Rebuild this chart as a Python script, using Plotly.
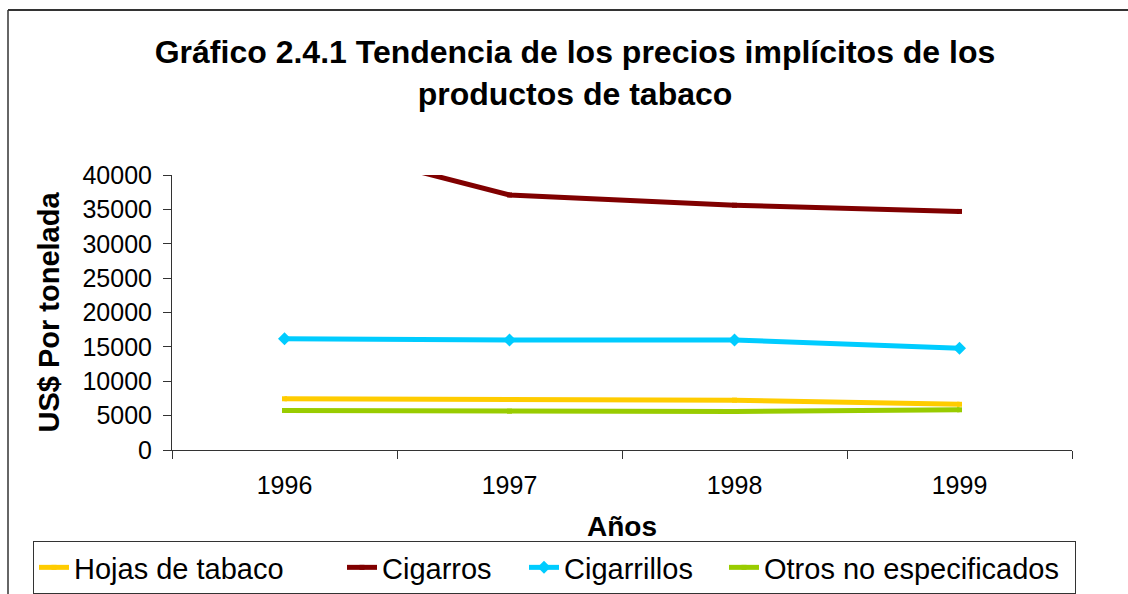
import plotly.graph_objects as go

years = ["1996", "1997", "1998", "1999"]
hojas = [7450, 7350, 7250, 6650]
cigarros = [45500, 37100, 35600, 34700]
cigarrillos = [16200, 16000, 16000, 14800]
otros = [5750, 5650, 5600, 5850]

y_ticks = [0, 5000, 10000, 15000, 20000, 25000, 30000, 35000, 40000]

FONT = "Liberation Sans, Arial, sans-serif"

fig = go.Figure()
fig.add_trace(go.Scatter(x=years, y=hojas, name="Hojas de tabaco", mode="lines+markers",
                         line=dict(color="#FFCC00", width=5), legendwidth=263,
                         marker=dict(symbol="square", size=5, color="#FFCC00")))
fig.add_trace(go.Scatter(x=years, y=cigarros, name="Cigarros", mode="lines+markers",
                         line=dict(color="#800000", width=5), legendwidth=137,
                         marker=dict(symbol="square", size=5, color="#800000")))
fig.add_trace(go.Scatter(x=years, y=cigarrillos, name="Cigarrillos", mode="lines+markers",
                         line=dict(color="#00CCFF", width=5), legendwidth=155,
                         marker=dict(symbol="diamond", size=10, color="#00CCFF")))
fig.add_trace(go.Scatter(x=years, y=otros, name="Otros no especificados", mode="lines+markers",
                         line=dict(color="#99CC00", width=5), legendwidth=306,
                         marker=dict(symbol="square", size=5, color="#99CC00")))

L, R, T, B = 172, 56, 175, 144
W, H = 1128, 594
pw = W - L - R
ph = H - T - B


def px_x(p):
    return (p - L) / pw


def px_y(p):
    return (H - B - p) / ph


fig.update_layout(
    width=W, height=H,
    margin=dict(l=L, r=R, t=T, b=B, autoexpand=False),
    paper_bgcolor="white", plot_bgcolor="white",
    font=dict(family=FONT, color="black", size=25),
    title=dict(text="<b>Gráfico 2.4.1 Tendencia de los precios implícitos de los<br>productos de tabaco</b>",
               x=575 / W, xanchor="center", y=1 - 63 / H, yanchor="middle",
               font=dict(size=32, family=FONT, color="black")),
    showlegend=True,
    legend=dict(orientation="h", x=px_x(33), xanchor="left", y=px_y(541), yanchor="top",
                bordercolor="#333333", borderwidth=1, bgcolor="white",
                font=dict(size=29, family=FONT, color="black"),
                itemwidth=30, tracegroupgap=0),
    shapes=[
        dict(type="line", xref="paper", yref="paper", x0=px_x(8), x1=px_x(1130), y0=px_y(10), y1=px_y(10),
             line=dict(color="#333333", width=2)),
        dict(type="line", xref="paper", yref="paper", x0=px_x(8), x1=px_x(8), y0=px_y(10), y1=px_y(600),
             line=dict(color="#333333", width=1.5)),
    ],
)

fig.update_xaxes(
    type="category", range=[-0.5, 3.5],
    showline=True, linecolor="#333333", linewidth=1,
    ticks="outside", tickson="boundaries", ticklen=8, tickcolor="#333333",
    showgrid=False, zeroline=False,
    tickfont=dict(size=25, family=FONT, color="black"),
    ticklabelstandoff=13,
    title=dict(text="<b>Años</b>", font=dict(size=28, family=FONT, color="black"), standoff=18),
)
fig.update_yaxes(
    range=[0, 40000], tickvals=y_ticks, ticktext=[str(v) for v in y_ticks],
    showline=True, linecolor="#333333", linewidth=1,
    ticks="outside", ticklen=8, tickcolor="#333333",
    showgrid=False, zeroline=False,
    tickfont=dict(size=25, family=FONT, color="black"),
    ticklabelstandoff=6,
    title=dict(text="<b>US$ Por tonelada</b>", font=dict(size=29, family=FONT, color="black"), standoff=14),
)

fig.write_html("out.html", config={"displayModeBar": False},
               post_script="document.body.style.margin='0';")
